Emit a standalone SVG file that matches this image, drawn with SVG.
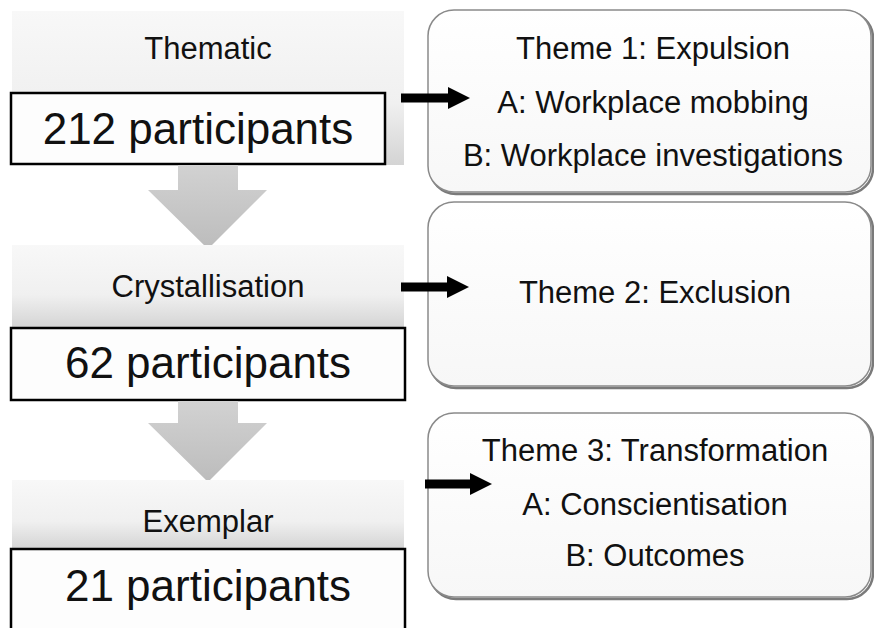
<svg xmlns="http://www.w3.org/2000/svg" width="874" height="628" viewBox="0 0 874 628">
  <defs>
    <linearGradient id="gstage" x1="0" y1="0" x2="0" y2="1">
      <stop offset="0" stop-color="#f8f8f8"/>
      <stop offset="0.6" stop-color="#f0f0f0"/>
      <stop offset="1" stop-color="#d4d4d4"/>
    </linearGradient>
    <linearGradient id="gdown" x1="0" y1="0" x2="0" y2="1">
      <stop offset="0" stop-color="#d2d2d2"/>
      <stop offset="1" stop-color="#bcbcbc"/>
    </linearGradient>
    <linearGradient id="gtheme" x1="0" y1="0" x2="0" y2="1">
      <stop offset="0" stop-color="#ffffff"/>
      <stop offset="1" stop-color="#f7f7f7"/>
    </linearGradient>
    <marker id="head" markerUnits="userSpaceOnUse" markerWidth="24" markerHeight="24" refX="0" refY="11" orient="auto">
      <path d="M0,0 L22,11 L0,22 z" fill="#000"/>
    </marker>
  </defs>
  <style>
    .stage { fill: url(#gstage); }
    .count { fill: #fdfdfd; stroke: #000; stroke-width: 2.5; }
    .down { fill: url(#gdown); }
    .theme { fill: url(#gtheme); stroke: #8a8a8a; stroke-width: 1.5; }
    .shadow { fill: none; stroke: #7a7a7a; stroke-width: 2.5; }
    .lbl { font-family: "Liberation Sans", Arial, sans-serif; font-size: 31px; fill: #111; text-anchor: middle; }
    .big { font-family: "Liberation Sans", Arial, sans-serif; font-size: 44px; fill: #111; text-anchor: middle; }
    .conn { stroke: #000; stroke-width: 9; fill: none; marker-end: url(#head); }
  </style>

  <g id="stage-thematic">
    <rect class="stage" x="12" y="11" width="392" height="154"/>
    <text class="lbl" x="208" y="59">Thematic</text>
    <rect class="count" x="11" y="93" width="374" height="71"/>
    <text class="big" x="198" y="144">212 participants</text>
  </g>

  <g id="down-1">
    <polygon class="down" points="178,165 238,165 238,190 267,190 208,249 148,190 178,190"/>
  </g>

  <g id="stage-crystallisation">
    <rect class="stage" x="12" y="245" width="392" height="83"/>
    <text class="lbl" x="208" y="297">Crystallisation</text>
    <rect class="count" x="11" y="328" width="394" height="72"/>
    <text class="big" x="208" y="378">62 participants</text>
  </g>

  <g id="down-2">
    <polygon class="down" points="178,401 238,401 238,423 267,423 208,482 148,423 178,423"/>
  </g>

  <g id="stage-exemplar">
    <rect class="stage" x="12" y="480" width="392" height="69"/>
    <text class="lbl" x="208" y="532">Exemplar</text>
    <rect class="count" x="11" y="549" width="394" height="90"/>
    <text class="big" x="208" y="601">21 participants</text>
  </g>

  <g id="theme-1">
    <rect class="shadow" x="430" y="12" width="443" height="182" rx="26"/>
    <rect class="theme" x="428" y="10" width="443" height="182" rx="26"/>
    <text class="lbl" x="653" y="59">Theme 1: Expulsion</text>
    <text class="lbl" x="653" y="113">A: Workplace mobbing</text>
    <text class="lbl" x="653" y="166">B: Workplace investigations</text>
  </g>

  <g id="theme-2">
    <rect class="shadow" x="430" y="204" width="443" height="184" rx="26"/>
    <rect class="theme" x="428" y="202" width="443" height="184" rx="26"/>
    <text class="lbl" x="655" y="303">Theme 2: Exclusion</text>
  </g>

  <g id="theme-3">
    <rect class="shadow" x="430" y="415" width="443" height="184" rx="26"/>
    <rect class="theme" x="428" y="413" width="443" height="184" rx="26"/>
    <text class="lbl" x="655" y="461">Theme 3: Transformation</text>
    <text class="lbl" x="655" y="515">A: Conscientisation</text>
    <text class="lbl" x="655" y="566">B: Outcomes</text>
  </g>

  <g id="connectors">
    <line class="conn" x1="401" y1="98" x2="448" y2="98"/>
    <line class="conn" x1="401" y1="287" x2="447" y2="287"/>
    <line class="conn" x1="425" y1="484" x2="470" y2="484"/>
  </g>
</svg>
